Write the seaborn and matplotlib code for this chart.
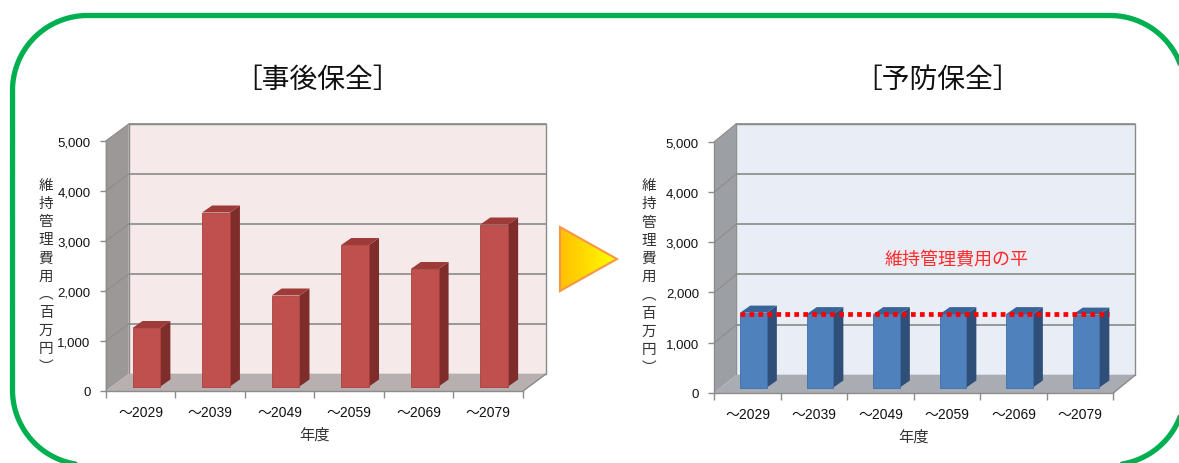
import numpy as np
import seaborn as sns
import matplotlib.pyplot as plt
from matplotlib.patches import Polygon
from matplotlib import transforms

# --- data ---
periods = ['～2029', '～2039', '～2049', '～2059', '～2069', '～2079']
corrective_cost = [1170, 3480, 1820, 2830, 2350, 3240]
preventive_cost = [1490, 1460, 1460, 1460, 1460, 1450]
y_ticks = [0, 1000, 2000, 3000, 4000, 5000]
y_label = '維持管理費用︵百万円︶'
x_label = '年度'
titles = ['［事後保全］', '［予防保全］']
avg_label = '維持管理費用の平'

W, H = 1179, 464
sns.set_theme(style='white')
plt.rcParams['font.family'] = ['Noto Sans CJK JP', 'DejaVu Sans']
tick_font = ['Liberation Sans', 'Noto Sans CJK JP']

fig = plt.figure(figsize=(W / 100, H / 100), dpi=100)

bg = fig.add_axes([0, 0, 1, 1], zorder=-10)
bg.set_xlim(0, W)
bg.set_ylim(H, 0)
bg.axis('off')

# green rounded frame, pixel coords (y down), runs off the right and bottom edges
fx0, fy0, fx1, fy1, rad = 12.5, 16.5, 1185, 466, 75
corners = [((fx1 - rad, fy0 + rad), 270, 360), ((fx1 - rad, fy1 - rad), 0, 90),
           ((fx0 + rad, fy1 - rad), 90, 180), ((fx0 + rad, fy0 + rad), 180, 270)]
fxs, fys = [], []
for (cx, cy), a0, a1 in corners:
    ang = np.radians(np.linspace(a0, a1, 40))
    fxs.extend(cx + rad * np.cos(ang))
    fys.extend(cy + rad * np.sin(ang))
fxs.append(fxs[0])
fys.append(fys[0])
bg.plot(fxs, fys, color='#00b050', lw=3.8, zorder=0, solid_joinstyle='round')


def px_rect(l, t, r, b):
    return [l / W, 1 - b / H, (r - l) / W, (b - t) / H]


def to_bg(ax, x, y, dx=0.0, dy=0.0):
    X, Y = ax.transData.transform((x, y))
    return (X + dx, H - Y - dy)


# chart settings: axes box in pixels, wall offset, bar offset, bar depth, colours
charts = [
    dict(rect=(105.7, 142, 523, 392), values=corrective_cost, wall=(23, 17), shift=(6, 4.5),
         depth=(10, 7), back='#f5e9e9', side='#9d9898', floor='#b8b0b0',
         front='#c0504d', bar_side='#7f2d2b', bar_top='#9e3b38', edge='#a8403d',
         ylab=(-0.143, 0.462), title_x=318),
    dict(rect=(714.3, 142.7, 1113.3, 394), values=preventive_cost, wall=(22, 18), shift=(6, 5.5),
         depth=(10, 7), back='#e9edf5', side='#9c9fa4', floor='#a9acb2',
         front='#4f81bd', bar_side='#2f4f78', bar_top='#3b6496', edge='#3d6ea8',
         ylab=(-0.164, 0.465), title_x=938),
]

grid_c = '#8a8a8a'

for i, c in enumerate(charts):
    ax = fig.add_axes(px_rect(*c['rect']))
    ax.patch.set_alpha(0)
    sns.barplot(x=periods, y=c['values'], color=c['front'], saturation=1, width=0.4,
                edgecolor=c['edge'], linewidth=0.6, ax=ax)
    ax.set_xlim(-0.5, 5.5)
    ax.set_ylim(0, 5000)

    ox, oy = c['wall']
    bx, by = c['shift']
    ddx, ddy = c['depth']
    x0, x1 = -0.5, 5.5

    # pseudo-3D walls
    back = [to_bg(ax, x0, 0, ox, oy), to_bg(ax, x0, 5000, ox, oy),
            to_bg(ax, x1, 5000, ox, oy), to_bg(ax, x1, 0, ox, oy)]
    bg.add_patch(Polygon(back, closed=True, facecolor=c['back'], edgecolor=grid_c, lw=1.0, zorder=1))
    side = [to_bg(ax, x0, 0), to_bg(ax, x0, 5000), to_bg(ax, x0, 5000, ox, oy), to_bg(ax, x0, 0, ox, oy)]
    bg.add_patch(Polygon(side, closed=True, facecolor=c['side'], edgecolor='none', zorder=1))
    floor = [to_bg(ax, x0, 0), to_bg(ax, x1, 0), to_bg(ax, x1, 0, ox, oy), to_bg(ax, x0, 0, ox, oy)]
    bg.add_patch(Polygon(floor, closed=True, facecolor=c['floor'], edgecolor='none', zorder=2))
    for t in y_ticks[1:]:
        a, b = to_bg(ax, x0, t, ox, oy), to_bg(ax, x1, t, ox, oy)
        bg.plot([a[0], b[0]], [a[1], b[1]], color=grid_c, lw=1.2, zorder=1.5)
        a, b = to_bg(ax, x0, t), to_bg(ax, x0, t, ox, oy)
        bg.plot([a[0], b[0]], [a[1], b[1]], color='#8f8b8b', lw=0.8, zorder=1.5)
    a, b = to_bg(ax, x1, 0), to_bg(ax, x1, 0, ox, oy)
    bg.plot([a[0], b[0]], [a[1], b[1]], color=grid_c, lw=1.0, zorder=2.5)

    # move bars into the box and add side / top faces
    off = transforms.ScaledTranslation(bx / 100, by / 100, fig.dpi_scale_trans)
    for p in ax.patches:
        p.set_transform(ax.transData + off)
        xl, w, h = p.get_x(), p.get_width(), p.get_height()
        xr = xl + w
        sface = [to_bg(ax, xr, 0, bx, by), to_bg(ax, xr, h, bx, by),
                 to_bg(ax, xr, h, bx + ddx, by + ddy), to_bg(ax, xr, 0, bx + ddx, by + ddy)]
        tface = [to_bg(ax, xl, h, bx, by), to_bg(ax, xr, h, bx, by),
                 to_bg(ax, xr, h, bx + ddx, by + ddy), to_bg(ax, xl, h, bx + ddx, by + ddy)]
        bg.add_patch(Polygon(sface, closed=True, facecolor=c['bar_side'], edgecolor='none', zorder=3))
        bg.add_patch(Polygon(tface, closed=True, facecolor=c['bar_top'], edgecolor='none', zorder=3))

    # axes styling
    for s in ['top', 'right']:
        ax.spines[s].set_visible(False)
    for s in ['left', 'bottom']:
        ax.spines[s].set_color('#8c8c8c')
        ax.spines[s].set_linewidth(1.0)
    ax.set_yticks(y_ticks)
    ax.set_yticklabels([f'{v:,}' for v in y_ticks], family=tick_font)
    ax.set_xticks(range(len(periods)))
    ax.set_xticklabels(periods, family=tick_font)
    ax.set_xticks(np.arange(-0.5, 6.0, 1.0), minor=True)
    ax.tick_params(axis='y', left=True, length=4, width=1, color='#8c8c8c', pad=7,
                   labelsize=9.5, labelcolor='#111111')
    ax.tick_params(axis='x', which='major', bottom=False, length=0, pad=10,
                   labelsize=10, labelcolor='#111111')
    ax.tick_params(axis='x', which='minor', bottom=True, length=5, width=1, color='#8c8c8c')
    ax.set_xlabel(x_label, fontsize=11, labelpad=5, color='#333333')
    ax.set_ylabel('\n'.join(y_label), rotation=0, fontsize=10.5, linespacing=1.38,
                  color='#333333', va='center', ha='center')
    ax.yaxis.set_label_coords(*c['ylab'])

    fig.text(c['title_x'] / W, 1 - 80 / H, titles[i], ha='center', va='center',
             fontsize=20, color='#111111')

    if i == 1:
        bars = ax.patches
        mean_val = np.mean(c['values'])
        unit_px = ax.transData.transform((1, 0))[0] - ax.transData.transform((0, 0))[0]
        xs = bars[0].get_x()
        xe = bars[-1].get_x() + bars[-1].get_width() + ddx / unit_px
        ax.plot([xs, xe], [mean_val, mean_val], color='#ff0000', lw=3.4,
                linestyle=(0, (1, 0.9)), transform=ax.transData + off, zorder=5,
                dash_capstyle='butt', clip_on=False)
        ax.text(3.15, 2665, avg_label, color='#ff2b2b', fontsize=13, ha='center', va='center')

# arrow between the charts
tri = Polygon([(560, 228), (617, 260), (560, 292)], closed=True, facecolor='none',
              edgecolor='#f79646', lw=1.5, zorder=5)
grad = np.linspace(0, 1, 100).reshape(1, -1)
img = bg.imshow(grad, extent=[560, 617, 292, 228],
                cmap=sns.blend_palette(['#ffbf00', '#ffff00'], as_cmap=True),
                aspect='auto', zorder=4)
bg.add_patch(tri)
img.set_clip_path(tri)
bg.set_xlim(0, W)
bg.set_ylim(H, 0)

fig.savefig('out.png', dpi=100)
